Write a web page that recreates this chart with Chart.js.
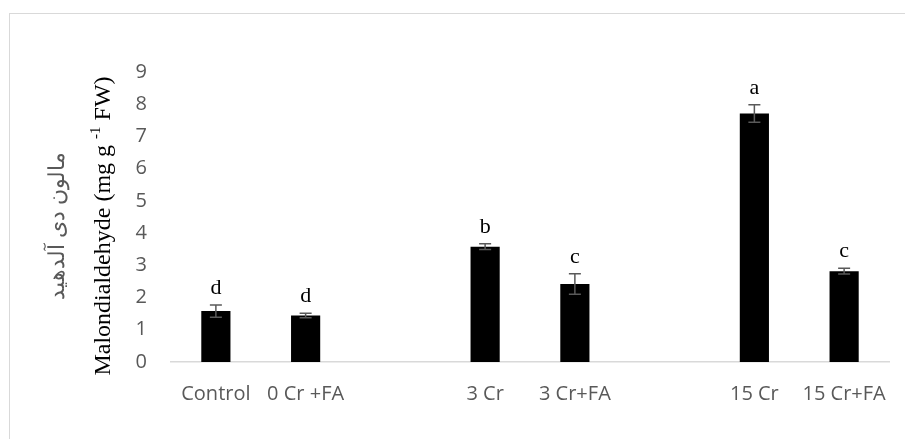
<!DOCTYPE html>
<html>
<head>
<meta charset="utf-8">
<script src="https://cdn.jsdelivr.net/npm/chart.js@4"></script>
<style>
  body { margin: 0; background: #fff; }
  canvas { display: block; }
</style>
</head>
<body>
<canvas id="MdaChart" width="905" height="439"></canvas>
<script>
// treatments, blanks leave the gaps between groups
var categories = ['Control', '0 Cr +FA', '', '3 Cr', '3 Cr+FA', '', '15 Cr', '15 Cr+FA'];
var mdaValues = [1.58, 1.44, null, 3.58, 2.42, null, 7.71, 2.82];
var mdaErrors = [0.19, 0.07, null, 0.09, 0.32, null, 0.27, 0.09];
var groupLetters = ['d', 'd', '', 'b', 'c', '', 'a', 'c'];
var yTicks = [0, 1, 2, 3, 4, 5, 6, 7, 8, 9];

var frame = {
    id: 'frame',
    beforeDraw: function (chart) {
        var ctx = chart.ctx;
        ctx.save();
        ctx.fillStyle = '#fff';
        ctx.fillRect(0, 0, chart.width, chart.height);
        ctx.strokeStyle = '#d9d9d9';
        ctx.lineWidth = 1;
        ctx.strokeRect(9.5, 13.5, 910, 440);
        ctx.restore();
    }
};

var errorBars = {
    id: 'errorBars',
    afterDatasetsDraw: function (chart) {
        var ctx = chart.ctx;
        var y = chart.scales.y;
        var meta = chart.getDatasetMeta(0);
        ctx.save();
        for (var i = 0; i < mdaValues.length; i++) {
            if (mdaValues[i] == null) continue;
            var x = meta.data[i].x;
            var top = y.getPixelForValue(mdaValues[i] + mdaErrors[i]);
            var bot = y.getPixelForValue(mdaValues[i] - mdaErrors[i]);
            ctx.strokeStyle = '#595959';
            ctx.lineWidth = 1.5;
            ctx.beginPath();
            ctx.moveTo(x, top); ctx.lineTo(x, bot);
            ctx.moveTo(x - 6, top); ctx.lineTo(x + 6, top);
            ctx.moveTo(x - 6, bot); ctx.lineTo(x + 6, bot);
            ctx.stroke();
            ctx.fillStyle = '#000';
            ctx.font = "22px 'Liberation Serif'";
            ctx.textAlign = 'center';
            ctx.textBaseline = 'alphabetic';
            ctx.fillText(groupLetters[i], x, top - 11);
        }
        ctx.restore();
    }
};

var axisTitle = {
    id: 'axisTitle',
    afterDraw: function (chart) {
        var ctx = chart.ctx;
        var cy = 226;
        ctx.save();
        // english title, serif with superscript
        ctx.translate(104, cy);
        ctx.rotate(-Math.PI / 2);
        ctx.fillStyle = '#000';
        ctx.textBaseline = 'middle';
        var big = "24px 'Liberation Serif'", small = "15px 'Liberation Serif'";
        var parts = [['Malondialdehyde (mg g ', big, 0], ['-1', small, -8], [' FW)', big, 0]];
        var total = 0;
        parts.forEach(function (p) { ctx.font = p[1]; total += ctx.measureText(p[0]).width; });
        var xx = -total / 2;
        ctx.textAlign = 'left';
        parts.forEach(function (p) {
            ctx.font = p[1];
            ctx.fillText(p[0], xx, p[2]);
            xx += ctx.measureText(p[0]).width;
        });
        ctx.restore();

        ctx.save();
        ctx.translate(58, cy);
        ctx.rotate(-Math.PI / 2);
        ctx.fillStyle = '#595959';
        ctx.font = "22px 'Noto Sans'";
        ctx.textAlign = 'center';
        ctx.textBaseline = 'middle';
        ctx.direction = 'rtl';
        ctx.fillText('مالون دی آلدهید', 0, 0);
        ctx.restore();
    }
};

var ctx = document.getElementById('MdaChart').getContext('2d');
var mdaChart = new Chart(ctx, {
    type: 'bar',
    data: {
        labels: categories,
        datasets: [{
            data: mdaValues,
            backgroundColor: '#000',
            borderWidth: 0,
            barPercentage: 0.325,
            categoryPercentage: 1
        }]
    },
    options: {
        responsive: false,
        animation: false,
        devicePixelRatio: 1,
        layout: { padding: { top: 72, right: 16, left: 0, bottom: 0 } },
        plugins: {
            legend: { display: false },
            tooltip: { enabled: false }
        },
        scales: {
            x: {
                grid: { display: false },
                border: { color: '#d9d9d9', width: 1.5 },
                ticks: {
                    color: '#595959',
                    font: { family: 'Open Sans', size: 20 },
                    padding: 12,
                    maxRotation: 0,
                    autoSkip: false
                },
                afterFit: function (s) { s.height = 77; }
            },
            y: {
                min: 0,
                max: 9,
                grid: { display: false },
                border: { display: false },
                afterBuildTicks: function (s) { s.ticks = yTicks.map(function (v) { return { value: v }; }); },
                ticks: {
                    color: '#595959',
                    font: { family: 'Open Sans', size: 20 },
                    padding: 16
                },
                afterFit: function (s) { s.width = 171; }
            }
        }
    },
    plugins: [frame, errorBars, axisTitle]
});
</script>
</body>
</html>
